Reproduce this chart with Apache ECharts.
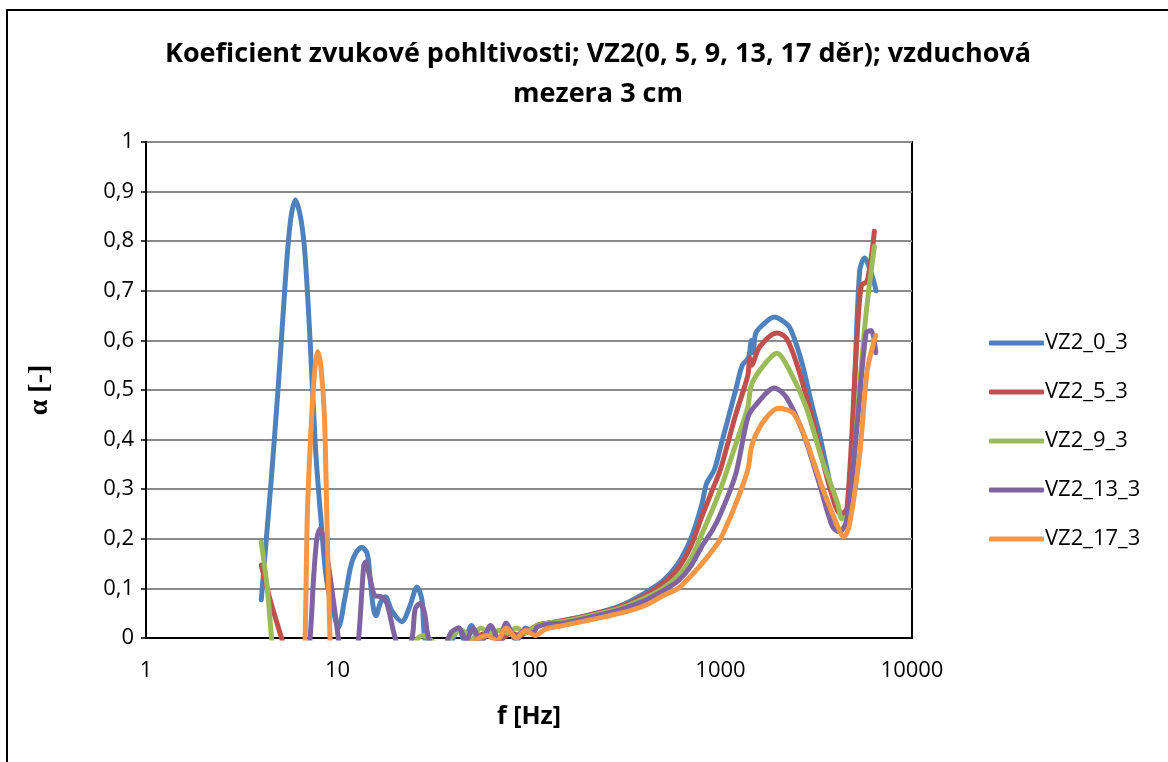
<!DOCTYPE html>
<html>
<head>
<meta charset="utf-8">
<script src="https://cdn.jsdelivr.net/npm/echarts@6/dist/echarts.min.js"></script>
<style>
html,body{margin:0;padding:0;background:#fff;}
#chart{width:1168px;height:762px;}
</style>
</head>
<body>
<div id="chart"></div>
<script>
// kmitočty [Hz] a koeficienty pohltivosti pro jednotlivé vzorky
var names=['VZ2_0_3','VZ2_5_3','VZ2_9_3','VZ2_13_3','VZ2_17_3'];
var colors=['#4F81BD','#C0504D','#9BBB59','#8064A2','#F79646'];

var f0=[4,4.25,4.51,4.91,5.34,5.54,5.75,6.03,6.4,6.71,6.96,7.22,7.67,8.15,8.77,9.76,10.1,10.96,11.7,12.4,13.4,14.3,14.8,15.4,15.9,16.7,17.8,19.2,21.7,23.9,26,27.6,28.6,32,38,43,46,50,55,63,70,77,86,96,105,110,125,150,200,300,400,500,600,700,800,843,930,1000,1100,1200,1300,1400,1450,1480,1530,1700,1910,2100,2290,2500,2700,3000,3290,3600,3840,4100,4310,4690,5000,5330,5650,6130,6500];
var a0=[0.077,0.2,0.32,0.51,0.72,0.80,0.855,0.883,0.85,0.79,0.70,0.587,0.385,0.25,0.117,0.036,0.022,0.083,0.143,0.17,0.183,0.17,0.12,0.06,0.045,0.07,0.083,0.055,0.033,0.065,0.103,0.077,0,-0.04,-0.02,0.02,-0.005,0.025,-0.01,0.02,-0.01,0.02,-0.005,0.02,0.01,0.025,0.03,0.035,0.045,0.065,0.09,0.115,0.15,0.20,0.27,0.31,0.34,0.385,0.445,0.50,0.55,0.565,0.60,0.575,0.615,0.635,0.647,0.64,0.627,0.59,0.546,0.47,0.41,0.34,0.29,0.26,0.25,0.27,0.50,0.74,0.766,0.735,0.70];

var f1=[4,4.5,5.1,6,8,10,15,20,30,40,50,60,70,80,90,100,110,125,150,200,300,400,500,600,700,800,910,1000,1200,1390,1420,1450,1600,1970,2200,2490,3000,3680,4240,4570,5110,5430,5840,6360];
var a1=[0.147,0.07,0,-0.1,-0.25,-0.3,-0.25,-0.15,-0.08,-0.03,-0.005,0.01,-0.005,0.01,0.005,0.015,0.025,0.03,0.035,0.045,0.063,0.085,0.11,0.14,0.185,0.245,0.30,0.34,0.45,0.53,0.565,0.55,0.587,0.615,0.605,0.555,0.446,0.31,0.25,0.26,0.575,0.71,0.72,0.82];

var f2=[4,4.3,4.55,5,6,8,10,15,20,25,28,31,35,40,45,50,56,63,70,77,86,96,105,110,125,150,200,300,400,500,600,700,800,910,1000,1200,1390,1450,1660,1970,2290,2790,3390,4100,4310,4690,5330,5760,6360];
var a2=[0.193,0.1,-0.01,-0.15,-0.3,-0.35,-0.3,-0.2,-0.08,-0.01,0.005,-0.005,-0.02,0.005,0.015,-0.005,0.02,0.01,0.015,0.01,0.02,0.01,0.02,0.025,0.03,0.033,0.043,0.06,0.08,0.10,0.125,0.16,0.21,0.26,0.30,0.39,0.466,0.51,0.547,0.574,0.54,0.467,0.36,0.27,0.24,0.25,0.51,0.655,0.79];

var f3=[4,5,6,6.8,7.19,7.5,7.8,8.1,8.6,9.33,10.1,11,12,12.9,13.7,14,14.8,15.7,17,18.1,20,22,24.5,25.5,27.2,28.5,29.9,34,39,43,47,51,56,63,70,76,85,95,105,110,125,150,200,300,400,500,600,700,800,910,1000,1200,1390,1530,1910,2200,2700,3290,3840,4170,4570,5200,5760,6130,6470];
var a3=[-0.4,-0.35,-0.2,-0.06,0,0.12,0.2,0.22,0.19,0.1,0,-0.12,-0.1,0,0.145,0.153,0.12,0.085,0.083,0.07,0,-0.04,0,0.06,0.07,0.05,0,-0.04,0.01,0.02,-0.005,0.02,-0.01,0.025,-0.005,0.03,0,0.015,0.01,0.022,0.028,0.03,0.04,0.057,0.075,0.095,0.115,0.145,0.185,0.218,0.25,0.33,0.445,0.47,0.504,0.486,0.413,0.31,0.225,0.214,0.238,0.44,0.615,0.62,0.575];

var f4=[4,5,6,6.5,6.77,6.96,7.34,7.64,7.87,8.19,8.54,8.79,9.14,9.6,10.5,15,20,30,40,50,60,68,76,86,96,108,122,150,200,300,400,500,600,700,800,910,1000,1200,1390,1450,1530,1700,2000,2400,2790,3390,4040,4400,4690,5330,5840,6470];
var a4=[-0.8,-0.6,-0.35,-0.12,0,0.25,0.45,0.547,0.577,0.547,0.45,0.25,0,-0.2,-0.35,-0.35,-0.25,-0.1,-0.04,-0.01,0.005,-0.005,0.02,0,0.015,0.005,0.018,0.025,0.035,0.05,0.065,0.085,0.10,0.125,0.15,0.177,0.2,0.27,0.34,0.385,0.41,0.44,0.463,0.453,0.40,0.305,0.23,0.204,0.224,0.37,0.54,0.61];

var freqs=[f0,f1,f2,f3,f4];
var alphas=[a0,a1,a2,a3,a4];

var font='"Open Sans", "Liberation Sans", sans-serif';

function pairs(f,a){
	var out=[];
	for(var i=0;i<f.length;i++){
		out.push([f[i],a[i]]);
	}
	return out;
}

var series=[];
for(var i=0;i<names.length;i++){
	series.push({
		name:names[i],
		type:'line',
		data:pairs(freqs[i],alphas[i]),
		symbol:'none',
		smooth:0.3,
		clip:true,
		lineStyle:{color:colors[i],width:5,cap:'round',join:'round'},
		itemStyle:{color:colors[i]}
	});
}

var chart=echarts.init(document.getElementById('chart'));
chart.setOption({
	animation:false,
	backgroundColor:'#ffffff',
	title:{
		text:'Koeficient zvukové pohltivosti; VZ2(0, 5, 9, 13, 17 děr); vzduchová\nmezera 3 cm',
		left:593,
		top:29,
		textAlign:'center',
		textStyle:{fontFamily:font,fontWeight:'bold',fontSize:27,lineHeight:40,color:'#000'}
	},
	legend:{
		orient:'vertical',
		left:984,
		top:327,
		icon:'roundRect',
		itemWidth:55,
		itemHeight:5,
		itemGap:27,
		textStyle:{fontFamily:font,fontSize:22,color:'#000',padding:[0,0,0,-4]},
		data:names
	},
	grid:{
		left:146,right:256,top:142,bottom:124,
		show:true,borderColor:'#000',borderWidth:2
	},
	xAxis:{
		type:'log',
		logBase:10,
		min:1,max:10000,
		name:'f [Hz]',
		nameLocation:'middle',
		nameGap:66,
		nameTextStyle:{fontFamily:font,fontWeight:'bold',fontSize:25,color:'#000'},
		axisLine:{lineStyle:{color:'#000',width:2}},
		axisTick:{show:false},
		splitLine:{show:false},
		axisLabel:{
			fontFamily:font,fontSize:22,color:'#000',margin:22,
			formatter:function(v){return String(v);}
		}
	},
	yAxis:{
		type:'value',
		min:0,max:1,interval:0.1,
		name:'α [-]',
		nameLocation:'middle',
		nameRotate:90,
		nameGap:92,
		nameTextStyle:{fontFamily:'"Liberation Serif", serif',fontWeight:'bold',fontSize:28,color:'#000'},
		axisLine:{show:true,lineStyle:{color:'#000',width:2}},
		axisTick:{show:true,inside:false,length:5,lineStyle:{color:'#000',width:1.5}},
		splitLine:{lineStyle:{color:'#8a8a8a',width:1.8}},
		axisLabel:{
			fontFamily:font,fontSize:22,color:'#000',margin:12,
			formatter:function(v){return String(Math.round(v*10)/10).replace('.',',');}
		}
	},
	graphic:[{
		type:'polyline',
		shape:{points:[[7,762],[7,10],[1168,10]]},
		style:{stroke:'#000',lineWidth:2,fill:null},
		silent:true
	}],
	series:series
});
</script>
</body>
</html>
